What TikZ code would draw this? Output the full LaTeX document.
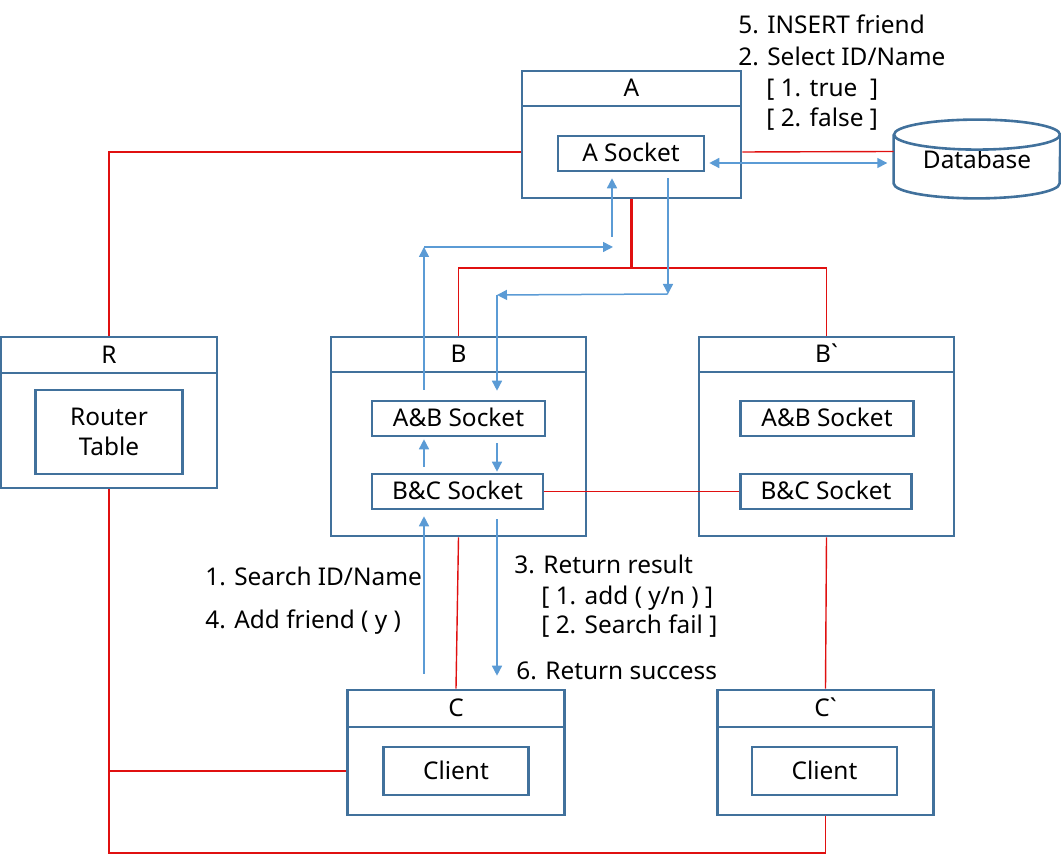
\documentclass[tikz,border=0pt]{standalone}
\usepackage{fontspec}
\setmainfont{Noto Sans}[Ligatures=TeXOff]
\usetikzlibrary{arrows.meta}
\definecolor{boxblue}{HTML}{41719C}
\definecolor{flowblue}{HTML}{5B9BD5}
\definecolor{linkred}{HTML}{E01010}
\begin{document}
\begin{tikzpicture}[x=0.5pt,y=-0.5pt,
    every node/.style={font=\fontsize{12.2}{15}\selectfont,inner sep=0pt,text height=8.5pt,text depth=0pt},
    sz/.style 2 args={minimum width=#1*0.5pt,minimum height=#2*0.5pt},
    frame/.style={draw=boxblue,line width=1.3pt},
    link/.style={draw=linkred,line width=0.7pt},
    flow/.style={draw=flowblue,line width=0.75pt,-{Triangle[length=5pt,width=5pt]}},
    lbl/.style={anchor=west}]
  \useasboundingbox (0,0) rectangle (1061,854);
  \node[frame,sz={219}{35}] (Ahd) at (631.5,88.5) {A};
  \node[frame,sz={219}{92}] (A) at (631.5,152) {};
  \node[frame,sz={146}{35}] (Asock) at (631,153.5) {A Socket};
  \node[sz={166}{63}] (db) at (977,151.5) {};
  \node (dbtext) at ([yshift=-4.5pt]db.center) {Database};
  \node[frame,sz={216}{36}] (Rhd) at (109,355) {R};
  \node[frame,sz={216}{115}] (R) at (109,430.5) {};
  \node[frame,sz={147}{84},align=center,text height=23.5pt] (Rtab) at (109,432) {Router\\Table};
  \node[frame,sz={255}{35}] (Bhd) at (458.5,354.5) {B};
  \node[frame,sz={255}{164}] (B) at (458.5,454) {};
  \node[frame,sz={173}{35}] (ABsock) at (458.5,418.5) {A\&B Socket};
  \node[frame,sz={171}{35}] (BCsock) at (457.5,491.5) {B\&C Socket};
  \node[frame,sz={255}{35}] (Bphd) at (826.5,354.5) {B`};
  \node[frame,sz={255}{164}] (Bp) at (826.5,454) {};
  \node[frame,sz={173}{35}] (Bpab) at (827,418.5) {A\&B Socket};
  \node[frame,sz={171}{35}] (Bpbc) at (826,491.5) {B\&C Socket};
  \node[frame,sz={217}{37}] (Chd) at (456,708.5) {C};
  \node[frame,sz={217}{88}] (C) at (456,771) {};
  \node[frame,sz={145}{48}] (Ccli) at (456,771) {Client};
  \node[frame,sz={216}{37}] (Cphd) at (825.5,708.5) {C`};
  \node[frame,sz={216}{88}] (Cp) at (825.5,771) {};
  \node[frame,sz={145}{48}] (Cpcli) at (824.5,771) {Client};
  \draw[boxblue,line width=1.3pt] ([yshift=-7.5pt]db.north west) -- (db.south west)
    arc[start angle=180,end angle=360,x radius=41.5pt,y radius=7.5pt] -- ([yshift=-7.5pt]db.north east);
  \draw[boxblue,line width=1.3pt] ([yshift=-7.5pt]db.north) ellipse[x radius=41.5pt,y radius=7.5pt];
  \node[lbl] (ins) at (738,25) {5. INSERT friend};
  \node[lbl] (sel) at (738,57) {2. Select ID/Name};
  \node[lbl] (tru) at (766,88) {[ 1. true\ \ ]};
  \node[lbl] (fal) at (766,118) {[ 2. false ]};
  \node[lbl] (srch) at (205,577) {1. Search ID/Name};
  \node[lbl] (addf) at (205,620) {4. Add friend ( y )};
  \node[lbl] (ret) at (514,565) {3. Return result};
  \node[lbl] (radd) at (541,596) {[ 1. add ( y/n ) ]};
  \node[lbl] (rfail) at (541,625) {[ 2. Search fail ]};
  \node[lbl] (succ) at (516,671) {6. Return success};
  \coordinate (jn) at (631.5,268);
  \coordinate (lowL) at (109,853);
  \draw[link] (A.west) -| (Rhd.north);
  \draw[link] (A.east) -- (db.west);
  \draw[link,line width=1.2pt] (A.south) -- (jn);
  \draw[link] (Bhd.north) |- (jn) -| (Bphd.north);
  \draw[link] (BCsock.east) -- (Bpbc.west);
  \draw[link] (B.south) -- (Chd.north);
  \draw[link] (Bp.south) -- (Cphd.north);
  \draw[link] (R.south) -- (lowL) -| (Cp.south);
  \draw[link] (C.west) -- (C.west -| lowL);
  \coordinate (up1) at (424,390);
  \coordinate (up2) at (424,247);
  \coordinate (up3) at (613,247);
  \coordinate (up4) at (612,237);
  \coordinate (dn1) at (668,294);
  \coordinate (dn2) at (497,295);
  \draw[flow] (up1) -- (up2);
  \draw[flow] (up2) -- (up3);
  \draw[flow] (up4) -- ([yshift=-3pt]Asock.south -| up4);
  \draw[flow] ([yshift=-3pt]Asock.south -| dn1) -- (dn1);
  \draw[flow] (dn1) -- (dn2);
  \draw[flow] (dn2) -- ([yshift=4.5pt]ABsock.north -| dn2);
  \draw[flow] ([yshift=3pt]BCsock.north -| up1) -- ([yshift=-1pt]ABsock.south -| up1);
  \draw[flow] ([yshift=-3pt]ABsock.south -| dn2) -- ([yshift=0.5pt]BCsock.north -| dn2);
  \draw[flow] ([yshift=7.5pt]Chd.north -| up1) -- ([yshift=-3pt]BCsock.south -| up1);
  \draw[flow] ([yshift=-4.5pt]BCsock.south -| dn2) -- ([yshift=6.5pt]Chd.north -| dn2);
  \draw[flow,{Triangle[length=5pt,width=5pt]}-{Triangle[length=5pt,width=5pt]}] ([xshift=2pt,yshift=-4.75pt]Asock.east) -- ++(178,0);
\end{tikzpicture}
\end{document}
